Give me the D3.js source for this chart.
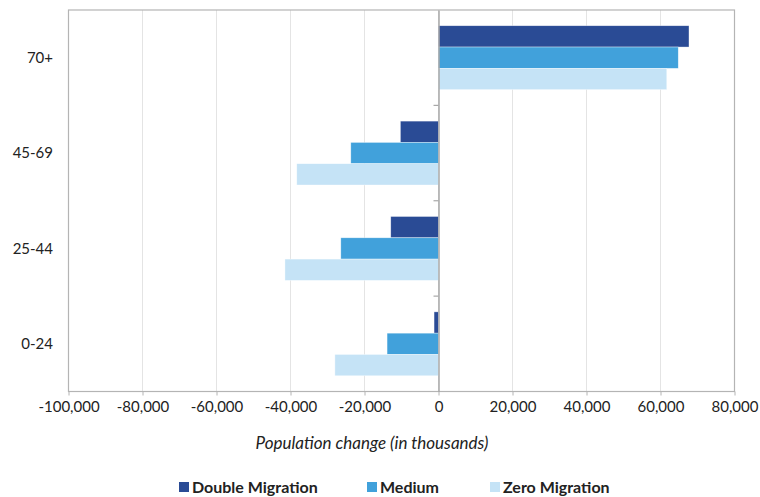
<!DOCTYPE html>
<html>
<head>
<meta charset="utf-8">
<script src="https://cdn.jsdelivr.net/npm/d3@7"></script>
<style>
  html, body { margin: 0; padding: 0; background: #fff; }
  svg { display: block; }
  text { font-family: Lato, "Open Sans", sans-serif; fill: #222; }
</style>
</head>
<body>
<svg id="chart" width="760" height="497"></svg>
<script>
// Age groups, top to bottom
const ageGroups = ["70+", "45-69", "25-44", "0-24"];
const seriesNames = ["Double Migration", "Medium", "Zero Migration"];
const seriesColors = ["#2a4b95", "#41a1db", "#c5e3f6"];
// Population change (thousands) per age group, one array per scenario
const doubleMigration = [67700, -10300, -12900, -1200];
const medium = [64800, -23700, -26400, -13900];
const zeroMigration = [61700, -38300, -41500, -28000];
const xTicks = [-100000, -80000, -60000, -40000, -20000, 0, 20000, 40000, 60000, 80000];

const seriesValues = [doubleMigration, medium, zeroMigration];

const svg = d3.select("#chart");
const m = { left: 68.5, right: 734.5, top: 10, bottom: 391.5 };

const x = d3.scaleLinear().domain([-100000, 80000]).range([m.left, m.right]);
const y = d3.scaleBand().domain(ageGroups).range([m.top, m.bottom]).paddingInner(0.33).paddingOuter(0.165);
const ySub = d3.scaleBand().domain(seriesNames).range([0, y.bandwidth()]);

// Vertical gridlines
svg.append("g").selectAll("line").data(xTicks.slice(1, -1)).join("line")
  .attr("x1", d => x(d)).attr("x2", d => x(d))
  .attr("y1", m.top).attr("y2", m.bottom)
  .attr("stroke", "#e4e4e4").attr("stroke-width", 1);

// Bars
const groups = svg.append("g").selectAll("g").data(ageGroups).join("g")
  .attr("transform", d => `translate(0,${y(d)})`);
groups.selectAll("rect")
  .data((d, i) => seriesNames.map((s, k) => ({ s, k, v: seriesValues[k][i] })))
  .join("rect")
  .attr("x", d => Math.min(x(0), x(d.v)))
  .attr("width", d => Math.abs(x(d.v) - x(0)))
  .attr("y", d => ySub(d.s))
  .attr("height", ySub.bandwidth())
  .attr("fill", d => seriesColors[d.k])
  .attr("stroke", "#ffffff").attr("stroke-opacity", 0.6).attr("stroke-width", 0.6);

// Plot frame
svg.append("rect")
  .attr("x", m.left).attr("y", m.top)
  .attr("width", m.right - m.left).attr("height", m.bottom - m.top)
  .attr("fill", "none").attr("stroke", "#b4b4b4").attr("stroke-width", 1.2);

// X axis along the bottom (plain hyphen for negatives)
const fmt = d3.format(",");
const xAxis = d3.axisBottom(x).tickValues(xTicks).tickSize(4).tickPadding(6)
  .tickFormat(d => fmt(d).replace("\u2212", "-"));
const gx = svg.append("g").attr("transform", `translate(0,${m.bottom})`).call(xAxis);
gx.select(".domain").remove();
gx.selectAll(".tick line").attr("stroke", "#b4b4b4");
gx.selectAll(".tick text").attr("font-size", 15).attr("fill", "#222")
  .style("font-family", "Lato, 'Open Sans', sans-serif");

// Category axis at zero
const yAxis = d3.axisLeft(y).tickSize(0).tickFormat("");
const gy = svg.append("g").attr("transform", `translate(${x(0)},0)`).call(yAxis);
gy.select(".domain").attr("stroke", "#a8a8a8").attr("stroke-width", 1.5);
// tick marks between categories
const bounds = ageGroups.slice(1).map(d => y(d) - y.step() * y.paddingInner() / 2);
svg.append("g").selectAll("line").data(bounds).join("line")
  .attr("x1", x(0) - 5).attr("x2", x(0))
  .attr("y1", d => d).attr("y2", d => d)
  .attr("stroke", "#a8a8a8").attr("stroke-width", 1.2);

// Category labels on the left
svg.append("g").selectAll("text").data(ageGroups).join("text")
  .attr("x", 53).attr("y", d => y(d) + y.bandwidth() / 2)
  .attr("dy", "0.35em").attr("text-anchor", "end")
  .attr("font-size", 15).text(d => d);

// Axis title
svg.append("text")
  .attr("x", 372).attr("y", 449)
  .attr("text-anchor", "middle").attr("font-size", 17)
  .attr("font-style", "italic").text("Population change (in thousands)");

// Legend
const legendX = [179, 367, 490];
const legend = svg.append("g").selectAll("g").data(seriesNames).join("g")
  .attr("transform", (d, i) => `translate(${legendX[i]},482)`);
legend.append("rect").attr("width", 10).attr("height", 10)
  .attr("fill", (d, i) => seriesColors[i]);
legend.append("text").attr("x", 13).attr("y", 5).attr("dy", "0.36em")
  .attr("font-size", 16).attr("font-weight", "bold").text(d => d);
</script>
</body>
</html>
